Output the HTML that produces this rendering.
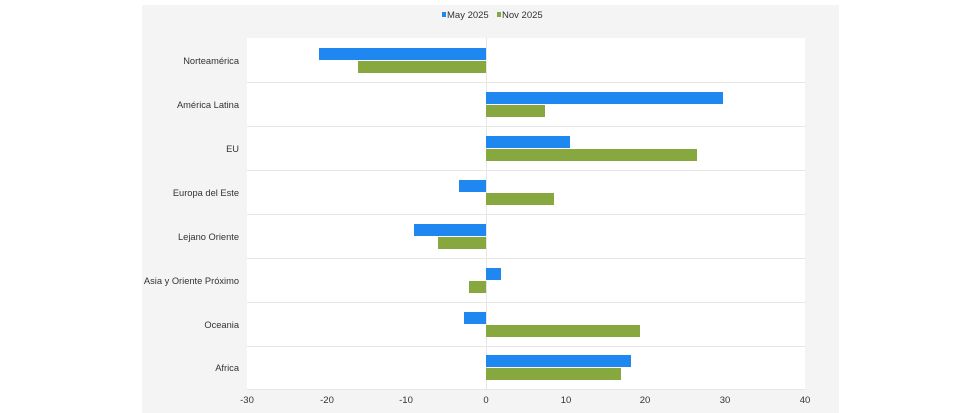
<!DOCTYPE html>
<html><head><style>body{margin:0;background:#fff}svg{display:block}text{font-family:"Liberation Sans",sans-serif;fill:#333}</style></head><body>
<svg width="980" height="413" xmlns="http://www.w3.org/2000/svg">
<rect x="142" y="5" width="697" height="408" fill="#f4f4f4"/>
<rect x="247" y="38" width="558" height="352" fill="#fff"/>
<g stroke="#e6e6e6" stroke-width="1">
<line x1="247" x2="805" y1="82.5" y2="82.5"/><line x1="247" x2="805" y1="126.5" y2="126.5"/>
<line x1="247" x2="805" y1="170.5" y2="170.5"/><line x1="247" x2="805" y1="214.5" y2="214.5"/>
<line x1="247" x2="805" y1="258.5" y2="258.5"/><line x1="247" x2="805" y1="302.5" y2="302.5"/>
<line x1="247" x2="805" y1="346.5" y2="346.5"/><line x1="247" x2="805" y1="389.5" y2="389.5"/>
<line x1="486.5" x2="486.5" y1="38" y2="390"/>
</g>
<rect x="442" y="12" width="4" height="5" fill="#1f88f0"/><text x="447" y="18" font-size="9.5">May 2025</text>
<rect x="497" y="12" width="4" height="5" fill="#86a83e"/><text x="502" y="18" font-size="9.5">Nov 2025</text>
<g fill="#1f88f0">
<rect x="319" y="48" width="167" height="12"/>
<rect x="486" y="92" width="237" height="12"/>
<rect x="486" y="136" width="84" height="12"/>
<rect x="459" y="180" width="27" height="12"/>
<rect x="414" y="224" width="72" height="12"/>
<rect x="486" y="268" width="15" height="12"/>
<rect x="464" y="312" width="22" height="12"/>
<rect x="486" y="355" width="145" height="12"/>
</g>
<g fill="#86a83e">
<rect x="358" y="61" width="128" height="12"/>
<rect x="486" y="105" width="59" height="12"/>
<rect x="486" y="149" width="211" height="12"/>
<rect x="486" y="193" width="68" height="12"/>
<rect x="438" y="237" width="48" height="12"/>
<rect x="469" y="281" width="17" height="12"/>
<rect x="486" y="325" width="154" height="12"/>
<rect x="486" y="368" width="135" height="12"/>
</g>
<g font-size="9.3" text-anchor="end">
<text x="239" y="64">Norteamérica</text>
<text x="239" y="108">América Latina</text>
<text x="239" y="152">EU</text>
<text x="239" y="196">Europa del Este</text>
<text x="239" y="240">Lejano Oriente</text>
<text x="239" y="284">Asia y Oriente Próximo</text>
<text x="239" y="328">Oceania</text>
<text x="239" y="371">Africa</text>
</g>
<g font-size="9.5" text-anchor="middle">
<text x="247" y="403">-30</text><text x="327" y="403">-20</text><text x="406" y="403">-10</text>
<text x="486" y="403">0</text><text x="566" y="403">10</text><text x="645" y="403">20</text>
<text x="725" y="403">30</text><text x="805" y="403">40</text>
</g>
</svg>
</body></html>
